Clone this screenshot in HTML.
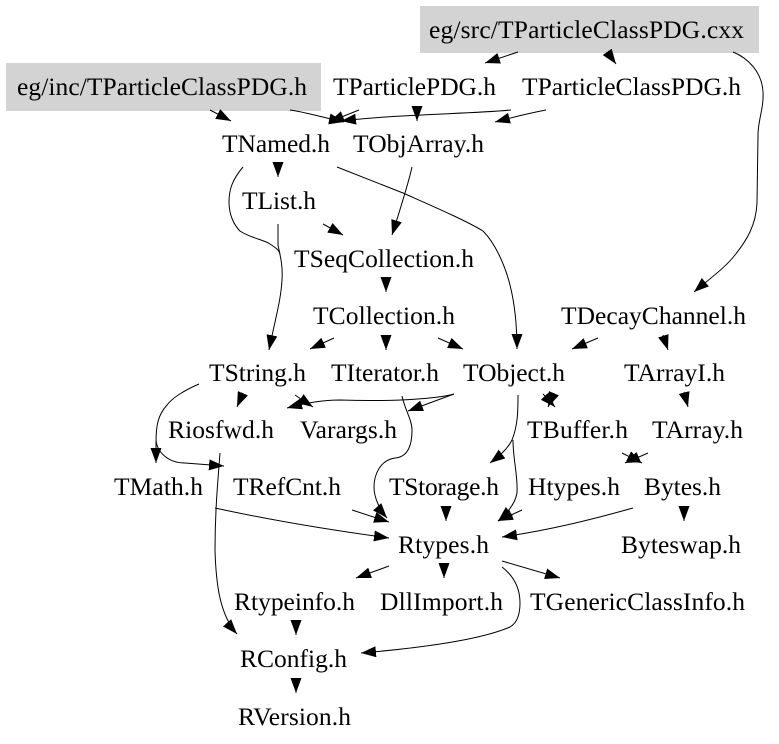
<!DOCTYPE html>
<html><head><meta charset="utf-8"><style>
html,body{margin:0;padding:0;background:#fff;width:779px;height:744px;overflow:hidden}
svg{display:block}
text{font-family:"Liberation Serif",serif;font-size:25.5px;fill:#000}
path.e{fill:none;stroke:#000;stroke-width:1;marker-end:url(#a)}
</style></head><body>
<svg width="779" height="744" viewBox="0 0 779 744" xmlns="http://www.w3.org/2000/svg">
<defs><marker id="a" markerUnits="userSpaceOnUse" markerWidth="15" markerHeight="11" viewBox="0 0 15 11" refX="15" refY="5.5" orient="auto"><path d="M0,0L15,5.500L0,11Z" fill="#000"/></marker></defs>
<rect x="420" y="6" width="339" height="47" fill="#d3d3d3"/>
<rect x="6" y="63" width="315" height="48" fill="#d3d3d3"/>
<path class="e" d="M518,52L485,63"/>
<path class="e" d="M608,53L616,64"/>
<path class="e" d="M733,52C748,58 762,72 763,92C764,108 758,120 758,135L757,203C756,225 747,240 735,255C725,268 708,280 694,292"/>
<path class="e" d="M359,110L329,122"/>
<path class="e" d="M417,106L417,121"/>
<path class="e" d="M511,110C470,114 400,114 341,121"/>
<path class="e" d="M290,110C305,112 325,118 344,122"/>
<path class="e" d="M546,110C530,113 510,118 495,122"/>
<path class="e" d="M210,110L231,121"/>
<path class="e" d="M278,163L278,177"/>
<path d="M243,167C232,180 229,190 229,202C229,215 234,225 240,231C250,238 265,240 270,244C276,248 279,250 280,254" fill="none" stroke="#000"/>
<path class="e" d="M278,224L278,245C280,255 283,265 282,280C281,300 275,320 269,350"/>
<path class="e" d="M337,167L403,193C430,205 465,220 483,231C495,243 505,265 510,285C515,305 517,325 517,349"/>
<path class="e" d="M412,167C408,185 400,210 392,235"/>
<path class="e" d="M323,224L343,235"/>
<path class="e" d="M386,277L386,292"/>
<path class="e" d="M334,338L310,349"/>
<path class="e" d="M386,335L386,350"/>
<path class="e" d="M438,338L463,349"/>
<path class="e" d="M598,338L572,349"/>
<path class="e" d="M663,335L668,350"/>
<path class="e" d="M199,384C185,390 172,398 167,405C158,415 156,425 156,443L156,463"/>
<path class="e" d="M156,440C157,452 168,463 185,463L224,466"/>
<path class="e" d="M243,393L237,407"/>
<path class="e" d="M295,395L313,407"/>
<path class="e" d="M454,394C440,398 400,402 340,400C325,400 305,403 287,408"/>
<path class="e" d="M454,394L408,411"/>
<path class="e" d="M402,396C405,410 412,420 412,430C412,445 408,457 395,458C380,460 374,475 374,487C374,498 380,510 387,518"/>
<path class="e" d="M352,510L389,522"/>
<path class="e" d="M220,453C218,480 215,510 215,550C216,585 220,615 237,634"/>
<path class="e" d="M215,508C270,520 330,530 389,538"/>
<path class="e" d="M543,394L555,407"/>
<path class="e" d="M554,393L548,407"/>
<path class="e" d="M518,395C518,410 518,425 512,440C507,450 498,457 490,463"/>
<path class="e" d="M513,440C513,460 518,475 517,493C515,505 505,515 498,521"/>
<path class="e" d="M522,510L498,521"/>
<path class="e" d="M633,508C590,520 550,530 502,537"/>
<path class="e" d="M684,506L684,521"/>
<path class="e" d="M684,392L688,407"/>
<path class="e" d="M622,453L642,463"/>
<path class="e" d="M648,453L625,463"/>
<path class="e" d="M446,506L446,521"/>
<path class="e" d="M389,566L356,578"/>
<path class="e" d="M444,563L444,578"/>
<path class="e" d="M502,561L560,578"/>
<path class="e" d="M502,567C515,577 520,590 520,603C520,615 517,623 510,627C480,640 420,648 361,653"/>
<path class="e" d="M296,620L296,635"/>
<path class="e" d="M296,678L296,693"/>
<text x="429" y="38" textLength="315">eg/src/TParticleClassPDG.cxx</text>
<text x="17" y="95" textLength="290">eg/inc/TParticleClassPDG.h</text>
<text x="333" y="95" textLength="163">TParticlePDG.h</text>
<text x="522" y="95" textLength="219">TParticleClassPDG.h</text>
<text x="222" y="152" textLength="108">TNamed.h</text>
<text x="353" y="152" textLength="131">TObjArray.h</text>
<text x="242" y="209" textLength="74">TList.h</text>
<text x="294" y="267" textLength="180">TSeqCollection.h</text>
<text x="313" y="324" textLength="142">TCollection.h</text>
<text x="561" y="324" textLength="185">TDecayChannel.h</text>
<text x="209" y="381" textLength="97">TString.h</text>
<text x="331" y="381" textLength="108">TIterator.h</text>
<text x="463" y="381" textLength="102">TObject.h</text>
<text x="624" y="381" textLength="101">TArrayI.h</text>
<text x="168" y="438" textLength="106">Riosfwd.h</text>
<text x="300" y="438" textLength="97">Varargs.h</text>
<text x="527" y="438" textLength="101">TBuffer.h</text>
<text x="652" y="438" textLength="91">TArray.h</text>
<text x="114" y="495" textLength="89">TMath.h</text>
<text x="233" y="495" textLength="108">TRefCnt.h</text>
<text x="389" y="495" textLength="110">TStorage.h</text>
<text x="528" y="495" textLength="92">Htypes.h</text>
<text x="644" y="495" textLength="77">Bytes.h</text>
<text x="398" y="553" textLength="91">Rtypes.h</text>
<text x="621" y="553" textLength="120">Byteswap.h</text>
<text x="234" y="610" textLength="121">Rtypeinfo.h</text>
<text x="380" y="610" textLength="123">DllImport.h</text>
<text x="530" y="610" textLength="215">TGenericClassInfo.h</text>
<text x="240" y="667" textLength="107">RConfig.h</text>
<text x="238" y="725" textLength="113">RVersion.h</text>
</svg>
</body></html>
